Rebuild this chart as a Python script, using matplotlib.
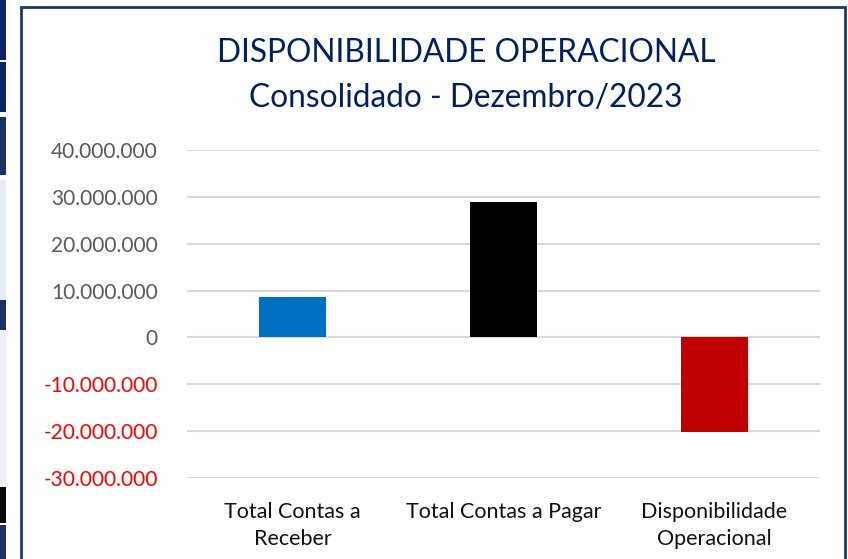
import matplotlib.pyplot as plt
from matplotlib.patches import Rectangle
from matplotlib.ticker import FuncFormatter

# data
categories = ["Total Contas a\nReceber", "Total Contas a Pagar", "Disponibilidade\nOperacional"]
values = [8_700_000, 28_900_000, -20_200_000]
bar_colors = ["#0070C0", "#000000", "#C00000"]
yticks = [-30_000_000, -20_000_000, -10_000_000, 0, 10_000_000, 20_000_000, 30_000_000, 40_000_000]

navy = "#1F3864"
title_col = "#002060"
plt.rcParams["font.family"] = ["Lato", "DejaVu Sans"]

fig = plt.figure(figsize=(8.48, 5.59), dpi=100)

# bits of the spreadsheet visible on the left
for y0, y1, c in [(0, 60, "#0F2363"), (62, 112, "#0F2363"), (117, 175, "#1F3060"),
                  (180, 300, "#E8ECF4"), (300, 330, "#1F3060"), (330, 485, "#EEF1F6"),
                  (487, 523, "#0A0A0A"), (525, 559, "#1F3060")]:
    fig.add_artist(Rectangle((0, 1 - y1 / 559), 6 / 848, (y1 - y0) / 559,
                             transform=fig.transFigure, color=c, lw=0))

# chart frame
fig.add_artist(Rectangle((21 / 848, -0.05), (845 - 21) / 848, 1.05 - 7 / 559,
                         transform=fig.transFigure, fill=False, ec=navy, lw=2))

ax = fig.add_axes([187 / 848, 1 - 478 / 559, (820 - 187) / 848, (478 - 150) / 559])
x = range(len(categories))
ax.bar(x, values, width=0.317, color=bar_colors, zorder=3)
ax.set_xlim(-0.5, 2.5)
ax.set_ylim(-30_000_000, 40_000_000)
ax.set_yticks(yticks)
ax.yaxis.set_major_formatter(FuncFormatter(lambda v, p: f"{v:,.0f}".replace(",", ".")))
ax.grid(axis="y", color="#D9D9D9", lw=1.5, zorder=0)
ax.set_xticks(list(x))
ax.set_xticklabels(categories, fontsize=15.5, color="#111111", linespacing=1.45)
ax.tick_params(axis="both", length=0)
ax.tick_params(axis="x", pad=17)
ax.tick_params(axis="y", pad=21, labelsize=15)
for lbl, v in zip(ax.get_yticklabels(), yticks):
    lbl.set_color("#FF0000" if v < 0 else "#595959")
for s in ax.spines.values():
    s.set_visible(False)

fig.text(466 / 848, 1 - 53 / 559, "DISPONIBILIDADE OPERACIONAL", ha="center", va="center",
         fontsize=22.8, color=title_col)
fig.text(466 / 848, 1 - 98 / 559, "Consolidado - Dezembro/2023", ha="center", va="center",
         fontsize=22.8, color=title_col)

fig.savefig("out.png", dpi=100)
